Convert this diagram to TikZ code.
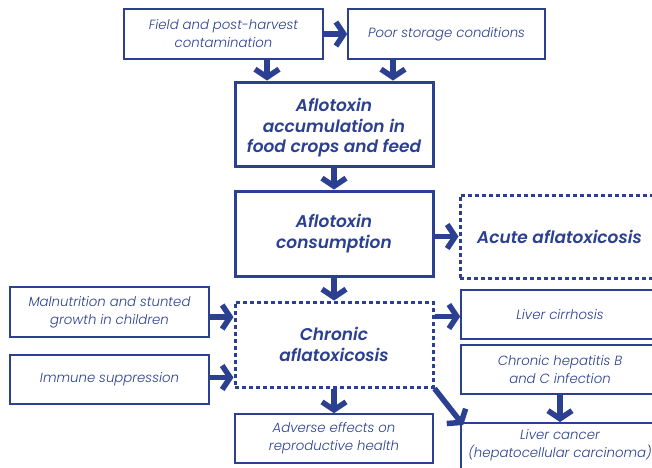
\documentclass[tikz,border=0pt]{standalone}
\usepackage{fontspec}
\setmainfont{Poppins}[ItalicFont={Poppins Light Italic}, BoldItalicFont={Poppins SemiBold Italic}]
\usetikzlibrary{arrows.meta,calc}
\definecolor{fb}{RGB}{43,64,145}
\tikzset{
  box/.style={draw=fb, line width=1.6pt, rectangle, inner sep=0pt, align=center,
     text=fb, font=\fontsize{13.3}{18}\selectfont\itshape},
  bigbox/.style={box, line width=3pt, font=\fontsize{17}{20.5}\selectfont\bfseries\itshape},
  dotbox/.style={bigbox, dash pattern=on 4pt off 3pt},
  smalltext/.style={text=fb, font=\fontsize{13.3}{18}\selectfont\itshape, align=center},
  bigtext/.style={text=fb, font=\fontsize{17}{20.5}\selectfont\bfseries\itshape, align=center},
  arr/.style={draw=fb, line width=5.5pt, -{Straight Barb[length=8pt,width=24pt,line width=5.5pt]}},
}
\begin{document}
\begin{tikzpicture}[x=1pt,y=-1pt]
\useasboundingbox (0,0) rectangle (652,467);
\clip (0,0) rectangle (652,467);
\node[box, minimum width=199, minimum height=50] (field) at (223.5,34) {Field and post-harvest\\contamination};
\node[box, minimum width=197, minimum height=50] (poor) at (446.5,34) {Poor storage conditions};
\node[bigbox, minimum width=198, minimum height=84] (acc) at (334,124) {};
\node[bigtext] (acctext) at (334,128) {Aflotoxin\\accumulation in\\food crops and feed};
\node[bigbox, minimum width=198, minimum height=85] (cons) at (334,233.5) {Aflotoxin\\consumption};
\node[dotbox, minimum width=199, minimum height=83] (acute) at (559.5,236.5) {Acute aflatoxicosis};
\node[dotbox, minimum width=198, minimum height=85] (chr) at (334,344.5) {Chronic\\aflatoxicosis};
\node[box, minimum width=199, minimum height=50] (maln) at (109.5,312) {Malnutrition and stunted\\growth in children};
\node[box, minimum width=199, minimum height=49] (imm) at (109.5,379.5) {Immune suppression};
\node[box, minimum width=198, minimum height=49] (adv) at (334,438.5) {Adverse effects on\\reproductive health};
\node[box, minimum width=198, minimum height=49] (cirr) at (560,314.5) {Liver cirrhosis};
\node[box, minimum width=198, minimum height=49] (hep) at (560,369.5) {Chronic hepatitis B\\and C infection};
\node[box, minimum width=198, minimum height=54, anchor=north] (can) at (560,422) {};
\node[smalltext] (cantext) at (560,445) {Liver cancer\\(hepatocellular carcinoma)};
\draw[arr] (field.east) -- (poor.west);
\draw[arr] (field.south -| 267,0) -- (acc.north -| 267,0);
\draw[arr] (poor.south -| 393,0) -- (acc.north -| 393,0);
\draw[arr] (acc.south) -- (cons.north);
\draw[arr] ([yshift=-3pt]cons.east) -- ([yshift=-3pt]cons.east -| acute.west);
\draw[arr] (cons.south) -- (chr.north);
\draw[arr] ([yshift=-5pt]maln.east) -- ([yshift=-5pt]maln.east -| chr.west);
\draw[arr] ([yshift=2pt]imm.east) -- ([yshift=2pt]imm.east -| chr.west);
\draw[arr] (chr.south) -- (adv.north);
\draw[arr] ([yshift=-2pt]cirr.west -| chr.east) -- ([yshift=-2pt]cirr.west);
\draw[arr] (chr.south east) -- ([shift={(3pt,-3pt)}]can.north west);
\draw[arr] (hep.south) -- (can.north);
\end{tikzpicture}
\end{document}
